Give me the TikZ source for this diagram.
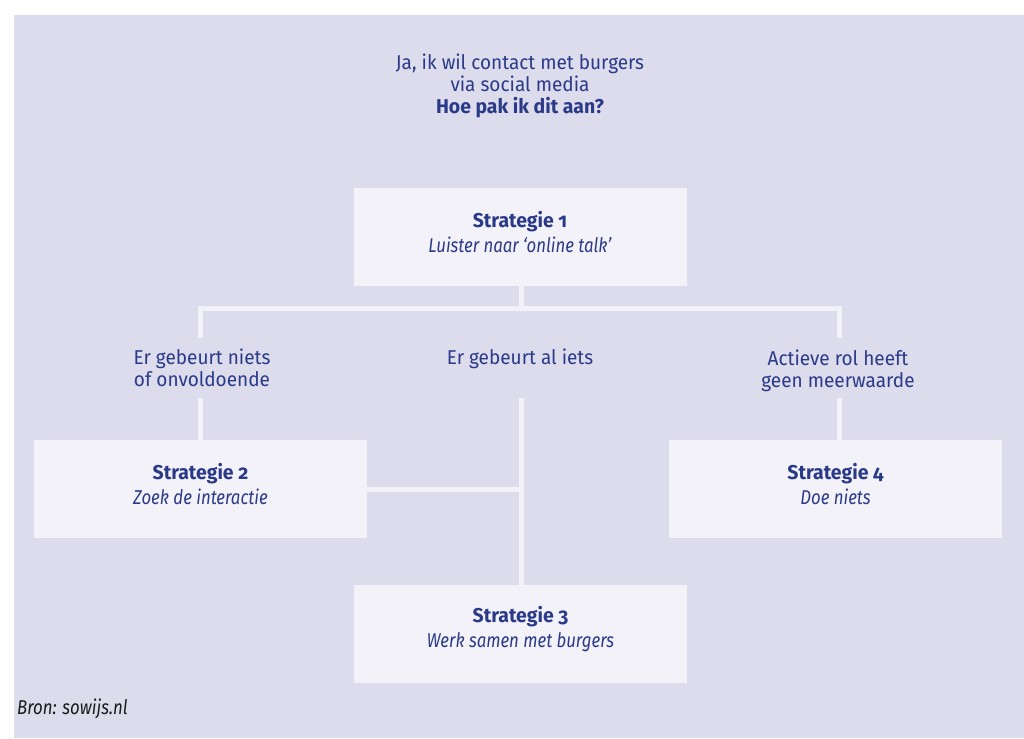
\documentclass[tikz,border=0pt]{standalone}
\usepackage{fontspec}
\setmainfont{Fira Sans}[Numbers=OldStyle,
  UprightFeatures={FakeStretch=0.95},
  BoldFeatures={FakeStretch=0.97},
  ItalicFeatures={FakeStretch=0.84}]
\definecolor{bg}{HTML}{DCDCEC}
\definecolor{boxc}{HTML}{F3F2F9}
\definecolor{ink}{HTML}{2A3A88}
\definecolor{srcc}{HTML}{1A1A1A}
\begin{document}
\begin{tikzpicture}[x=1pt,y=-1pt,
  box/.style={fill=boxc, minimum width=333pt, minimum height=98pt, inner sep=0pt},
  boxtext/.style={align=center, text=ink, font=\fontsize{20}{25}\selectfont, inner sep=0pt, yshift=4.5pt},
  lbl/.style={align=center, text=ink, font=\fontsize{20}{22}\selectfont, inner xsep=2pt, inner ysep=11pt},
  conn/.style={draw=boxc, line width=5pt}]
\useasboundingbox (0,0) rectangle (1024,738);
\fill[bg] (14,15) rectangle (1024,738);
% title
\node[lbl, inner ysep=0pt] (title) at (520,86) {Ja, ik wil contact met burgers\\via social media\\\textbf{Hoe pak ik dit aan?}};
% boxes
\node[box, label={[boxtext]center:{\textbf{Strategie 1}\\\textit{Luister naar ‘online talk’}}}] (s1) at (520,237) {};
\node[box, label={[boxtext]center:{\textbf{Strategie 2}\\\textit{Zoek de interactie}}}] (s2) at (200.5,489) {};
\node[box, label={[boxtext]center:{\textbf{Strategie 3}\\\textit{Werk samen met burgers}}}] (s3) at (520.5,634) {};
\node[box, label={[boxtext]center:{\textbf{Strategie 4}\\\textit{Doe niets}}}] (s4) at (835.5,489) {};
% labels
\node[lbl] (l1) at (202,368) {Er gebeurt niets\\of onvoldoende};
\node[lbl] (l2) at (520,359) {Er gebeurt al iets};
\node[lbl] (l3) at (838,370.5) {Actieve rol heeft\\geen meerwaarde};
% junction
\coordinate (j) at (521,308.5);
\coordinate (jl) at (200.5,308.5);
\coordinate (jr) at (839,308.5);
\draw[conn] (s1.south -| j) -- (j);
\draw[conn, line cap=rect] (jl) -- (jr);
\draw[conn] (jl) -- (jl |- l1.north);
\draw[conn] (jr) -- (jr |- l1.north);
\draw[conn] (l1.south -| s2.north) -- (s2.north);
\draw[conn] (l1.south -| jr) -- (jr |- s4.north);
\draw[conn] (j |- l1.south) -- (j |- s3.north);
\draw[conn] (s2.east) -- (s2.east -| j);
\node[anchor=west, inner sep=0pt, text=srcc, font=\fontsize{20}{22}\selectfont\itshape] (src) at (17,709) {Bron: sowijs.nl};
\end{tikzpicture}
\end{document}
